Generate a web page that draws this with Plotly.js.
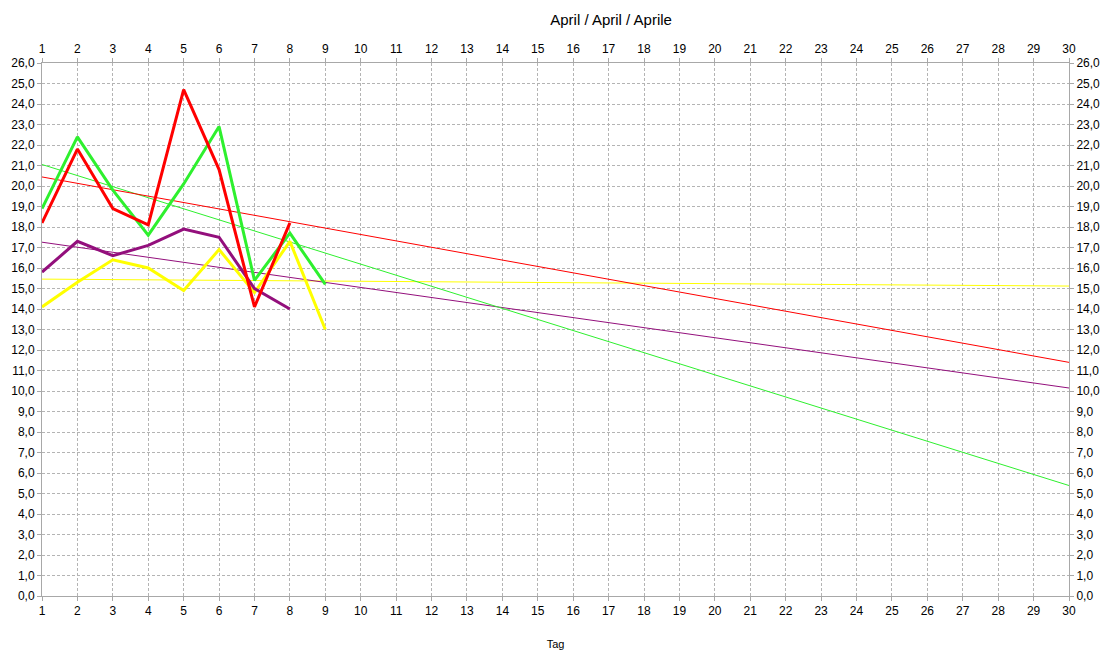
<!DOCTYPE html>
<html><head><meta charset="utf-8">
<script src="https://cdn.plot.ly/plotly-3.0.1.min.js"></script>
<style>html,body{margin:0;padding:0;background:#fff}#c{width:1107px;height:657px}</style>
</head><body><div id="c"></div>
<script>
const redDays = [1,2,3,4,5,6,7,8];
const redVals = [18.2,21.8,18.9,18.1,24.7,20.8,14.1,18.2];
const greenDays = [1,2,3,4,5,6,7,8,9];
const greenVals = [18.9,22.4,19.8,17.6,20.1,22.9,15.4,17.7,15.2];
const purpleDays = [1,2,3,4,5,6,7,8];
const purpleVals = [15.8,17.3,16.6,17.1,17.9,17.5,15.0,14.0];
const yellowDays = [1,2,3,4,5,6,7,8,9];
const yellowVals = [14.1,15.3,16.4,16.0,14.9,16.9,14.8,17.3,13.0];

function trend(xs, ys){
  const n=xs.length, mx=xs.reduce((a,b)=>a+b)/n, my=ys.reduce((a,b)=>a+b)/n;
  let sxy=0,sxx=0;
  for(let i=0;i<n;i++){sxy+=(xs[i]-mx)*(ys[i]-my);sxx+=(xs[i]-mx)**2;}
  const m=sxy/sxx;
  return {x:[1,30], y:[my+m*(1-mx), my+m*(30-mx)]};
}
const series = [
  {x:yellowDays,y:yellowVals,c:'#ffff00'},
  {x:purpleDays,y:purpleVals,c:'#930f7c'},
  {x:greenDays,y:greenVals,c:'#2ef02e'},
  {x:redDays,y:redVals,c:'#ff0000'}
];
const traces=[];
series.forEach(s=>{
  const t=trend(s.x,s.y);
  traces.push({x:t.x,y:t.y,mode:'lines',line:{color:s.c,width:1},hoverinfo:'skip'});
});
series.forEach(s=>{
  traces.push({x:s.x,y:s.y,mode:'lines',line:{color:s.c,width:3}});
});
traces.push({x:[1],y:[0],xaxis:'x2',yaxis:'y2',mode:'markers',marker:{opacity:0},hoverinfo:'skip'});

const fnt={family:'Liberation Sans, Arial, sans-serif',size:12,color:'#000'};
const xax={range:[1,30],dtick:1,tick0:1,showgrid:true,gridcolor:'#b4b4b4',griddash:'3px,2px',gridwidth:1,
  showline:true,linecolor:'#a8a8a8',linewidth:1,ticks:'outside',ticklen:4,tickcolor:'#a8a8a8',
  zeroline:false,tickfont:fnt,fixedrange:true};
const yax={range:[0,26],dtick:1,tick0:0,tickformat:'.1f',showgrid:true,gridcolor:'#b4b4b4',griddash:'3px,2px',gridwidth:1,
  showline:true,linecolor:'#a8a8a8',linewidth:1,ticks:'outside',ticklen:4,tickcolor:'#a8a8a8',
  zeroline:false,tickfont:fnt,fixedrange:true};
const layout={
  width:1107,height:657,
  margin:{l:42,r:38,t:63,b:61},
  paper_bgcolor:'#fff',plot_bgcolor:'#fff',
  separators:',.',
  showlegend:false,
  font:fnt,
  title:{text:'April / April / Aprile',x:0.552,xanchor:'center',y:0.97,yanchor:'middle',font:{family:'Liberation Sans, Arial, sans-serif',size:15,color:'#000'}},
  xaxis:Object.assign({},xax,{title:{text:'Tag',font:{family:'Liberation Sans, Arial, sans-serif',size:11,color:'#000'},standoff:22}}),
  xaxis2:Object.assign({},xax,{overlaying:'x',side:'top',matches:'x',showgrid:false}),
  yaxis:yax,
  yaxis2:Object.assign({},yax,{overlaying:'y',side:'right',matches:'y',showgrid:false})
};
Plotly.newPlot('c',traces,layout,{staticPlot:true});
</script></body></html>
